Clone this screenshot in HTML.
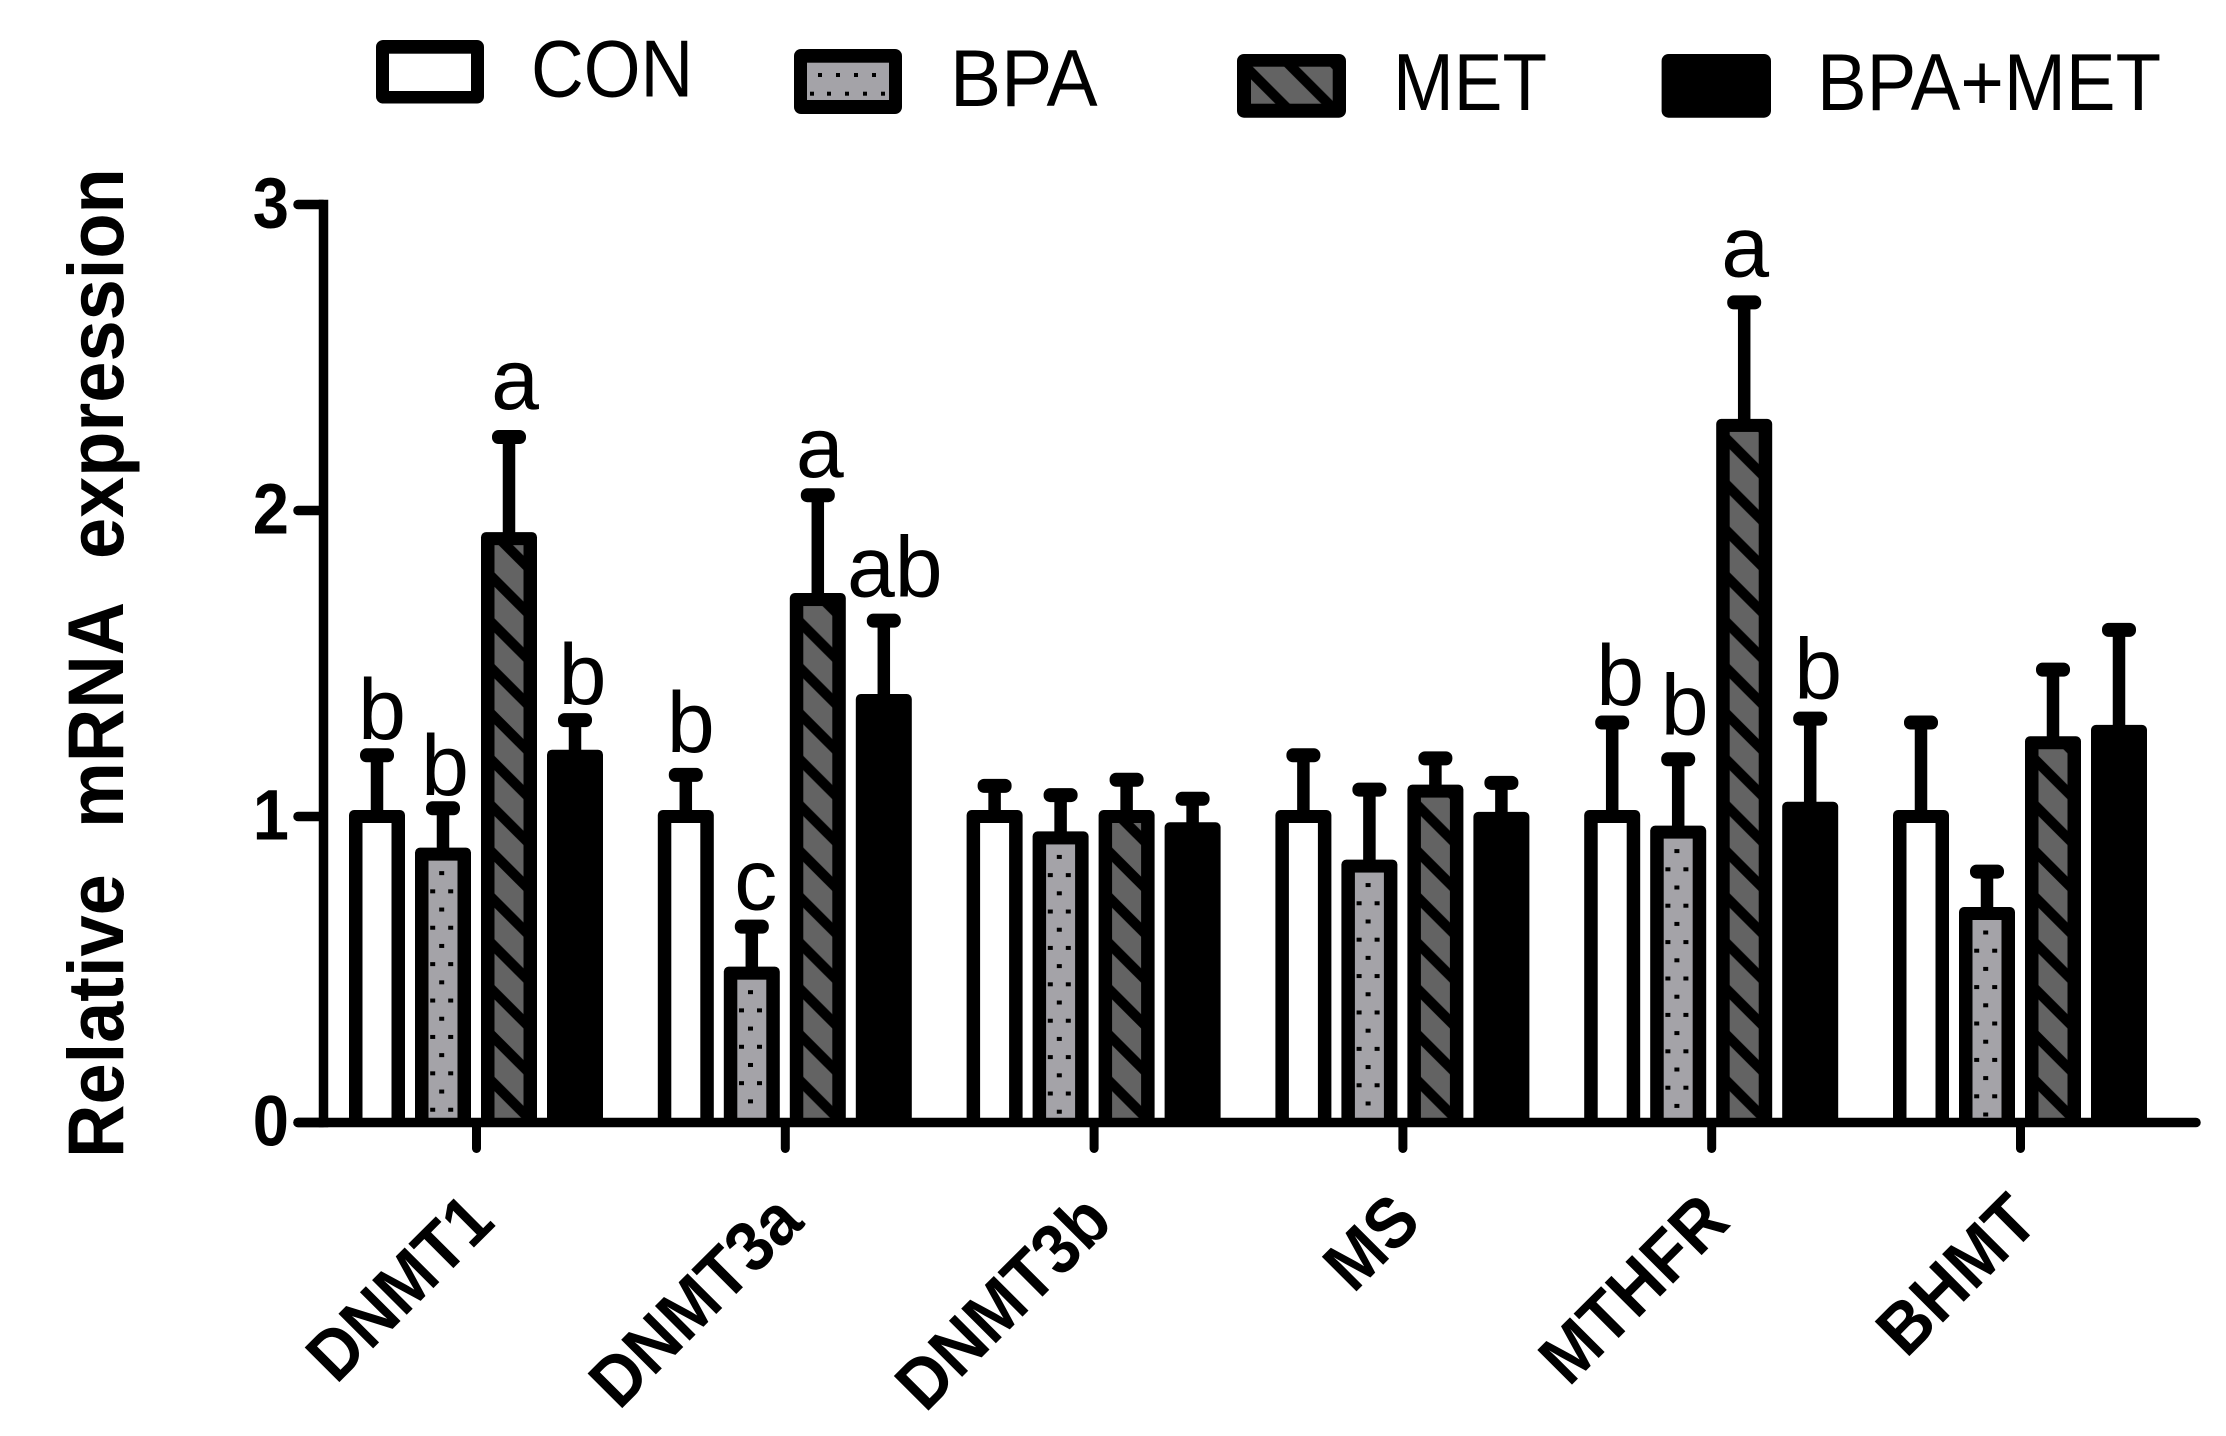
<!DOCTYPE html>
<html lang="en">
<head>
<meta charset="utf-8">
<title>Relative mRNA expression chart</title>
<style>
html,body{margin:0;padding:0;background:#fff;}
svg{display:block;}
text{font-family:"Liberation Sans",Arial,sans-serif;fill:#000;}
</style>
</head>
<body>
<svg id="chart" xmlns="http://www.w3.org/2000/svg" width="2226" height="1436" viewBox="0 0 2226 1436">
  <defs id="defs"></defs>
  <rect x="0" y="0" width="2226" height="1436" fill="#fff"/>
  <g id="bars"></g>
  <g id="errors"></g>
  <g id="letters"></g>
  <g id="axes"></g>
  <g id="legend"></g>
  <text transform="translate(123,1158) rotate(-90) scale(1,1.06)" font-size="74" font-weight="700"><tspan x="0" y="0">Relative</tspan> <tspan x="330" y="0">mRNA</tspan> <tspan x="599" y="0">expression</tspan></text>
</svg>
<script>
// ---- chart data ----
const categories = ['DNMT1', 'DNMT3a', 'DNMT3b', 'MS', 'MTHFR', 'BHMT'];
const seriesNames = ['CON', 'BPA', 'MET', 'BPA+MET'];
const conValues = [1.0, 1.0, 1.0, 1.0, 1.0, 1.0];
const bpaValues = [0.877, 0.488, 0.93, 0.838, 0.949, 0.683];
const metValues = [1.908, 1.709, 1.0, 1.083, 2.278, 1.241];
const bpaMetValues = [1.197, 1.379, 0.96, 0.994, 1.027, 1.278];
const conErrorTops = [1.2, 1.136, 1.1, 1.2, 1.307, 1.307];
const bpaErrorTops = [1.027, 0.64, 1.07, 1.088, 1.187, 0.82];
const metErrorTops = [2.24, 2.05, 1.12, 1.19, 2.68, 1.48];
const bpaMetErrorTops = [1.315, 1.64, 1.058, 1.11, 1.32, 1.61];
const yTickValues = [0, 1, 2, 3];

const seriesValues = [conValues, bpaValues, metValues, bpaMetValues];
const seriesErrors = [conErrorTops, bpaErrorTops, metErrorTops, bpaMetErrorTops];

// ---- axis functions ----
const NS = 'http://www.w3.org/2000/svg';
function yScale(v) { return 1122.5 - v * 306; }
function groupCenter(g) { return 476 + g * 308.8; }
function barCenter(g, s) { return groupCenter(g) + (s - 1.5) * 66; }

function make(tag, attrs, parent) {
  const el = document.createElementNS(NS, tag);
  for (const k in attrs) el.setAttribute(k, attrs[k]);
  parent.appendChild(el);
  return el;
}

const defs = document.getElementById('defs');
const barsG = document.getElementById('bars');
const errorsG = document.getElementById('errors');
const lettersG = document.getElementById('letters');
const axesG = document.getElementById('axes');
const legendG = document.getElementById('legend');

function hatchPattern(id, originX, originY) {
  const T = 45.85, th = 14.3;
  const p = make('pattern', {id: id, patternUnits: 'userSpaceOnUse', x: originX, y: originY, width: T, height: T}, defs);
  make('rect', {x: 0, y: 0, width: T, height: T, fill: '#636363'}, p);
  make('polygon', {points: `0,0 ${T},${T} ${T},${T + th} 0,${th}`, fill: '#000'}, p);
  make('polygon', {points: `0,${-T} ${T},0 ${T},${th} 0,${th - T}`, fill: '#000'}, p);
}

// ---- bars ----
seriesValues.forEach(function (values, s) {
  values.forEach(function (v, g) {
    const cx = barCenter(g, s);
    const yTop = yScale(v);
    const yBase = yScale(0);
    const key = seriesNames[s].toLowerCase().replace('+', '-') + '-' + categories[g].toLowerCase();

    const outer = make('rect', {x: cx - 28, y: yTop - 6.5, width: 56, height: yBase - yTop + 6.5, rx: 5, fill: '#000'}, barsG);
    
    

    if (s === 3) return;
    const ix = cx - 14.5, iw = 29, iy = yTop + 6.5, ih = Math.max(0, yBase - iy);
    let fill = '#fff';
    if (s === 1) fill = '#a4a3a8';
    if (s === 2) {
      const id = 'hatch-' + g;
      hatchPattern(id, ix, 1122.7);
      fill = 'url(#' + id + ')';
    }
    const inner = make('rect', {x: ix, y: iy, width: iw, height: ih, fill: fill}, barsG);
    
    

    if (s === 1) {
      for (let k = 0, dy = iy + 12.5; dy < yBase - 3; k++, dy += 18.2) {
        const offsets = k % 2 === 0 ? [-1.3] : [-10.3, 7.7];
        offsets.forEach(function (off) {
          const dot = make('rect', {x: cx + off - 2.5, y: dy - 2, width: 5, height: 4, fill: '#000'}, barsG);
          
          
        });
      }
    }
  });
});

// ---- error bars ----
seriesErrors.forEach(function (tops, s) {
  tops.forEach(function (t, g) {
    const cx = barCenter(g, s);
    const capY = yScale(t);
    const barTop = yScale(seriesValues[s][g]);
    const stem = make('rect', {x: cx - 6.25, y: capY, width: 12.5, height: Math.max(0, barTop - capY), fill: '#000'}, errorsG);
    
    
    const cap = make('rect', {x: cx - 17, y: capY - 7, width: 34, height: 14, rx: 6.5, fill: '#000'}, errorsG);
    
    
  });
});

// ---- significance letters ----
function letter(g, s, text, dx, gap) {
  const el = make('text', {
    x: barCenter(g, s) + dx,
    y: yScale(seriesErrors[s][g]) - gap,
    'text-anchor': 'middle',
    'font-size': 86
  }, lettersG);
  
  
  el.textContent = text;
}
letter(0, 0, 'b', 5, 16.5);
letter(0, 1, 'b', 2, 13);
letter(0, 2, 'a', 6, 28);
letter(0, 3, 'b', 7.5, 16);
letter(1, 0, 'b', 5, 23);
letter(1, 1, 'c', 4, 17);
letter(1, 2, 'a', 2, 18);
letter(1, 3, 'ab', 11, 24);
letter(4, 0, 'b', 8, 17.6);
letter(4, 1, 'b', 6.5, 25);
letter(4, 2, 'a', 1, 26);
letter(4, 3, 'b', 8, 20);

// ---- axes ----
const yAxisLine = make('line', {x1: 323.5, y1: yScale(3), x2: 323.5, y2: yScale(0), stroke: '#000', 'stroke-width': 9.5, 'stroke-linecap': 'square'}, axesG);


const xAxisLine = make('line', {x1: 298, y1: yScale(0), x2: 2196, y2: yScale(0), stroke: '#000', 'stroke-width': 9.5, 'stroke-linecap': 'round'}, axesG);



yTickValues.forEach(function (v) {
  const tick = make('line', {x1: 298, y1: yScale(v), x2: 323, y2: yScale(v), stroke: '#000', 'stroke-width': 9.5, 'stroke-linecap': 'round'}, axesG);
  
  
  const label = make('text', {
    transform: 'translate(289,' + (yScale(v) + 23) + ') scale(0.93,1.02)',
    'text-anchor': 'end',
    'font-size': 70,
    'font-weight': 700
  }, axesG);
  
  
  label.textContent = v;
});

categories.forEach(function (name, g) {
  const cx = groupCenter(g) + 0.5;
  const tick = make('line', {x1: cx, y1: yScale(0), x2: cx, y2: 1148.5, stroke: '#000', 'stroke-width': 9, 'stroke-linecap': 'round'}, axesG);
  
  
  const label = make('text', {
    transform: 'translate(' + (cx + 20.5) + ',1224.5) rotate(-45) scale(1,1.08)',
    'text-anchor': 'end',
    'font-size': 66,
    'font-weight': 700
  }, axesG);
  
  
  label.textContent = name;
});

// ---- legend ----
function legendSwatch(x, y, w, h, name) {
  const box = make('rect', {x: x, y: y, width: w, height: h, rx: 7, fill: '#000'}, legendG);
  
  
}
function legendLabel(text, x, baseline, sx, name) {
  const el = make('text', {transform: 'translate(' + x + ',' + baseline + ') scale(' + sx + ',1.11)', 'font-size': 73}, legendG);
  
  
  el.textContent = text;
}

legendSwatch(376, 40, 108, 63.5, 'legend-swatch-con');
const conInner = make('rect', {x: 389, y: 53.7, width: 82, height: 37.3, fill: '#fff'}, legendG);


legendLabel('CON', 531, 96.7, 1, 'legend-label-con');

legendSwatch(794, 49, 108, 65, 'legend-swatch-bpa');
const bpaInner = make('rect', {x: 807, y: 62.7, width: 82, height: 37.3, fill: '#a4a3a8'}, legendG);


[[820, 75], [838, 75], [856, 75], [874, 75], [812, 93.7], [829, 93.7], [847, 93.7], [865, 93.7], [883, 93.7]].forEach(function (d) {
  const dot = make('rect', {x: d[0] - 2, y: d[1] - 2, width: 4, height: 4, fill: '#000'}, legendG);
  
  
});
legendLabel('BPA', 950, 106, 1.05, 'legend-label-bpa');

legendSwatch(1237, 54, 109, 63.7, 'legend-swatch-met');
hatchPattern('hatch-legend', 1251, 65);
const metInner = make('rect', {x: 1251, y: 66.7, width: 81.7, height: 37, fill: 'url(#hatch-legend)'}, legendG);


legendLabel('MET', 1393, 110, 1, 'legend-label-met');

legendSwatch(1661.6, 54, 109.4, 63.7, 'legend-swatch-bpa-met');
legendLabel('BPA+MET', 1817, 110, 1.02, 'legend-label-bpa-met');
</script>
</body>
</html>
